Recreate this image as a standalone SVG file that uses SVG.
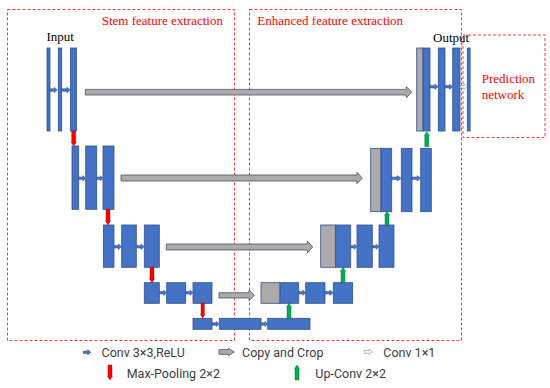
<svg xmlns="http://www.w3.org/2000/svg" xmlns:xlink="http://www.w3.org/1999/xlink" width="550" height="388" viewBox="0 0 550 388">
<style>
.b{fill:#4472C4;stroke:#2F528F;stroke-width:0.8}
.g{fill:#AEAAAA;stroke:#2F528F;stroke-width:0.8}
.cp{fill:#AEAAAA;stroke:#44546A;stroke-width:0.8}
.box{fill:none;stroke:#FF3B3B;stroke-width:1;stroke-dasharray:3 2}
.rt{font-family:"Liberation Serif",serif;font-size:13px;fill:#FF0000}
.bt{font-family:"Liberation Serif",serif;font-size:13px;fill:#000}
.lg{font-family:Roboto,"Liberation Sans",sans-serif;font-size:12.5px;fill:#404040}
</style>
<defs>
<path id="conv" d="M0,-1.3 H4.6 V-2.7 L8,0 L4.6,2.7 V1.3 H0 Z" fill="#4472C4" stroke="#2F528F" stroke-width="0.5"/>
<path id="c11" d="M0,-1.3 H4.6 V-2.7 L8,0 L4.6,2.7 V1.3 H0 Z" fill="#FFFFFF" stroke="#8497B0" stroke-width="0.7"/>
<path id="pool" d="M-2,0 V11 H-2.6 L0,15 L2.6,11 H2 V0 Z" fill="#FF0000" stroke="#8B0000" stroke-width="0.4"/>
<path id="up" d="M-2,0 V-11 H-2.6 L0,-15 L2.6,-11 H2 V0 Z" fill="#00B050" stroke="#006030" stroke-width="0.4"/>
</defs>

<g id="regions">
<rect class="box" x="7.5" y="9.5" width="227" height="331"/>
<rect class="box" x="249.5" y="9.5" width="212" height="331"/>
<rect class="box" x="463" y="35" width="82" height="102.5"/>
<text class="rt" x="101.7" y="25">Stem feature extraction</text>
<text class="rt" x="257.3" y="25">Enhanced feature extraction</text>
<text class="rt" x="481.7" y="82.7">Prediction</text>
<text class="rt" x="481.7" y="99">network</text>
</g>

<g id="enc1">
<text class="bt" x="46.5" y="40.7">Input</text>
<rect class="b" x="47" y="48" width="3" height="83"/>
<rect class="b" x="58.3" y="48" width="3.4" height="83"/>
<rect class="b" x="70.5" y="48" width="6" height="83"/>
</g>
<g id="enc2">
<rect class="b" x="72" y="146" width="6.7" height="63.3"/>
<rect class="b" x="85.7" y="146" width="11" height="63.3"/>
<rect class="b" x="103" y="146" width="11" height="63.3"/>
</g>
<g id="enc3">
<rect class="b" x="103.3" y="225" width="10.7" height="42.3"/>
<rect class="b" x="121.7" y="225" width="14.6" height="42.3"/>
<rect class="b" x="144.3" y="225" width="15" height="42.3"/>
</g>
<g id="enc4">
<rect class="b" x="144.3" y="282.7" width="15" height="20.6"/>
<rect class="b" x="166.7" y="282.7" width="19" height="20.6"/>
<rect class="b" x="193" y="282.7" width="19" height="20.6"/>
</g>
<g id="bottleneck">
<rect class="b" x="193" y="318.3" width="19" height="11"/>
<rect class="b" x="219.3" y="318.3" width="41.7" height="11"/>
<rect class="b" x="267.7" y="318.3" width="42.3" height="11"/>
</g>
<g id="dec4">
<rect class="g" x="261" y="282.7" width="19" height="20.6"/>
<rect class="b" x="280" y="282.7" width="18.7" height="20.6"/>
<rect class="b" x="305.7" y="282.7" width="19.3" height="20.6"/>
<rect class="b" x="333.3" y="282.7" width="19.4" height="20.6"/>
</g>
<g id="dec3">
<rect class="g" x="320.7" y="225" width="15" height="42.3"/>
<rect class="b" x="335.7" y="225" width="15" height="42.3"/>
<rect class="b" x="357" y="225" width="15.3" height="42.3"/>
<rect class="b" x="379" y="225" width="15" height="42.3"/>
</g>
<g id="dec2">
<rect class="g" x="370.7" y="148.3" width="10.3" height="63.4"/>
<rect class="b" x="381" y="148.3" width="10.7" height="63.4"/>
<rect class="b" x="401.3" y="148.3" width="10.7" height="63.4"/>
<rect class="b" x="420.7" y="148.3" width="10.6" height="63.4"/>
</g>
<g id="dec1">
<text class="bt" x="433" y="41.7">Output</text>
<rect class="g" x="416.7" y="48" width="6.3" height="83"/>
<rect class="b" x="423" y="48" width="7" height="83"/>
<rect class="b" x="438.3" y="48" width="6.7" height="83"/>
<rect class="b" x="452.7" y="48" width="7.3" height="83"/>
<rect class="b" x="467.3" y="48" width="2.8" height="83"/>
</g>

<g id="connectors">
<!-- copy and crop -->
<path class="cp" d="M85.3,89.4 H406.3 V86.6 L411.7,92.2 L406.3,97.8 V95 H85.3 Z"/>
<path class="cp" d="M121,175 H357 V172.3 L362.3,178 L357,183.7 V181 H121 Z"/>
<path class="cp" d="M166.3,244 H307.3 V241 L312.7,247 L307.3,253 V250 H166.3 Z"/>
<path class="cp" d="M219,292.7 H249 V290 L254.5,295.3 L249,300.6 V298 H219 Z"/>
<!-- conv 3x3 -->
<use xlink:href="#conv" transform="translate(50,90) scale(0.92,1)"/>
<use xlink:href="#conv" transform="translate(61.7,90) scale(1.1,1)"/>
<use xlink:href="#conv" transform="translate(78.7,178.3) scale(0.875,1)"/>
<use xlink:href="#conv" transform="translate(96.7,178.3) scale(0.79,1)"/>
<use xlink:href="#conv" transform="translate(114,246.7) scale(0.96,1)"/>
<use xlink:href="#conv" transform="translate(136.3,246.7)"/>
<use xlink:href="#conv" transform="translate(159.3,292.7) scale(0.92,1)"/>
<use xlink:href="#conv" transform="translate(185.7,292.7) scale(0.91,1)"/>
<use xlink:href="#conv" transform="translate(212,324) scale(0.91,1)"/>
<use xlink:href="#conv" transform="translate(261,324) scale(0.84,1)"/>
<use xlink:href="#conv" transform="translate(298.7,292.7) scale(0.875,1)"/>
<use xlink:href="#conv" transform="translate(325,292.7) scale(1.04,1)"/>
<use xlink:href="#conv" transform="translate(350.7,246.7) scale(0.79,1)"/>
<use xlink:href="#conv" transform="translate(372.3,246.7) scale(0.84,1)"/>
<use xlink:href="#conv" transform="translate(391.7,178.3) scale(1.2,1)"/>
<use xlink:href="#conv" transform="translate(412,178.3) scale(1.09,1)"/>
<use xlink:href="#conv" transform="translate(430,86.7) scale(1.04,1)"/>
<use xlink:href="#conv" transform="translate(445,86.7) scale(0.96,1)"/>
<use xlink:href="#c11" transform="translate(460,86.7) scale(0.91,1)"/>
<!-- max pooling -->
<use xlink:href="#pool" transform="translate(73.7,131)"/>
<use xlink:href="#pool" transform="translate(108,209.3) scale(1,1.04)"/>
<use xlink:href="#pool" transform="translate(152,267.3) scale(1,1.03)"/>
<use xlink:href="#pool" transform="translate(202.7,303.3) scale(0.85,1)"/>
<!-- up conv -->
<use xlink:href="#up" transform="translate(289,318.3)"/>
<use xlink:href="#up" transform="translate(343,282.7) scale(1,1.03)"/>
<use xlink:href="#up" transform="translate(387,225) scale(1,0.89)"/>
<use xlink:href="#up" transform="translate(426.8,146.7)"/>
</g>

<g id="legend">
<use xlink:href="#conv" transform="translate(83.3,352.3) scale(0.95,1)"/>
<text class="lg" x="101.5" y="356.7">Conv 3×3,ReLU</text>
<path class="cp" d="M219,349.7 H228.3 V348.2 L234.3,352 L228.3,355.8 V354.3 H219 Z"/>
<text class="lg" x="242" y="356.7">Copy and Crop</text>
<use xlink:href="#c11" transform="translate(364.3,351.9)"/>
<text class="lg" x="383.3" y="356.7">Conv 1×1</text>
<use xlink:href="#pool" transform="translate(110,365)"/>
<text class="lg" x="126.7" y="377.5">Max-Pooling 2×2</text>
<use xlink:href="#up" transform="translate(297,380)"/>
<text class="lg" x="315.3" y="377.5">Up-Conv 2×2</text>
</g>
</svg>
